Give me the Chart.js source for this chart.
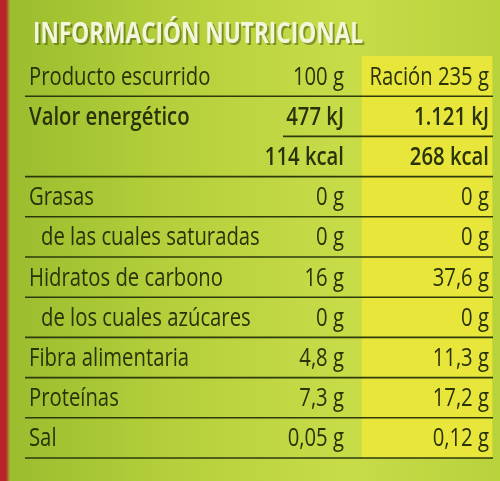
<!DOCTYPE html>
<html>
<head>
<meta charset="utf-8">
<script src="https://cdn.jsdelivr.net/npm/chart.js@4"></script>
<style>
  body { margin: 0; }
  #wrap {
    width: 500px; height: 481px; position: relative;
    background: linear-gradient(90deg, #b8232a 0px, #b8232a 6px, #9bbd2e 10px, #b5d03c 35%, #c8dc48 70%, #b8d23c 100%);
  }
</style>
</head>
<body>
<div id="wrap"><canvas id="label" width="500" height="481"></canvas></div>
<script>
const title = 'INFORMACIÓN NUTRICIONAL';
const rows = ['Producto escurrido', 'Valor energético', '', 'Grasas', '   de las cuales saturadas',
  'Hidratos de carbono', '   de los cuales azúcares', 'Fibra alimentaria', 'Proteínas', 'Sal'];
const per100 = ['100 g', '477 kJ', '114 kcal', '0 g', '0 g', '16 g', '0 g', '4,8 g', '7,3 g', '0,05 g'];
const perRacion = ['Ración 235 g', '1.121 kJ', '268 kcal', '0 g', '0 g', '37,6 g', '0 g', '11,3 g', '17,2 g', '0,12 g'];
const boldRows = [1, 2];

const FONT = '"Open Sans", "Noto Sans", sans-serif';
const ink = '#2a3208';
const SQ = 0.78; // horizontal squeeze, the label font is condensed

function squeezed(ctx, text, px, py, align) {
  ctx.save();
  ctx.translate(px, py);
  ctx.scale(SQ, 1);
  ctx.textAlign = align;
  ctx.fillText(text, 0, 0);
  ctx.restore();
}

const tablePlugin = {
  id: 'tableText',
  beforeDatasetsDraw(chart) {
    const ctx = chart.ctx;
    ctx.save();
    ctx.font = 'bold 29px ' + FONT;
    ctx.fillStyle = 'rgba(60,80,10,0.5)';
    squeezed(ctx, title, 35, 45, 'left');
    ctx.fillStyle = '#f4f6dc';
    squeezed(ctx, title, 33, 43, 'left');
    ctx.restore();
  },
  afterDatasetsDraw(chart) {
    const ctx = chart.ctx, y = chart.scales.y, x = chart.scales.x;
    ctx.save();
    ctx.fillStyle = ink;
    ctx.textBaseline = 'middle';
    rows.forEach((r, i) => {
      const cy = y.getPixelForValue(i) + 1;
      ctx.font = (boldRows.includes(i) ? '600 ' : '500 ') + '26px ' + FONT;
      squeezed(ctx, r.replace(/^ +/, ''), x.getPixelForValue(r.startsWith(' ') ? 41 : 29), cy, 'left');
      squeezed(ctx, per100[i], x.getPixelForValue(344), cy, 'right');
      squeezed(ctx, perRacion[i], x.getPixelForValue(489), cy, 'right');
    });
    // row rules
    ctx.strokeStyle = '#2e3a0c';
    ctx.lineWidth = 1.6;
    for (let i = 0; i < rows.length; i++) {
      const by = y.getPixelForValue(i) + (y.getPixelForValue(1) - y.getPixelForValue(0)) / 2;
      const x0 = i === 1 ? 283 : 25;
      ctx.beginPath();
      ctx.moveTo(x.getPixelForValue(x0), by);
      ctx.lineTo(x.getPixelForValue(493), by);
      ctx.stroke();
    }
    ctx.restore();
  }
};

new Chart(document.getElementById('label'), {
  type: 'bar',
  data: {
    labels: rows.map((r, i) => 'r' + i),
    datasets: [{
      data: rows.map(() => [362, 492]),
      backgroundColor: '#e8e63a',
      barPercentage: 1,
      categoryPercentage: 1
    }]
  },
  options: {
    indexAxis: 'y',
    responsive: false,
    animation: false,
    layout: { padding: { top: 56, bottom: 23 } },
    plugins: { legend: { display: false }, tooltip: { enabled: false } },
    scales: {
      x: { type: 'linear', min: 0, max: 500, display: false },
      y: { display: false }
    }
  },
  plugins: [tablePlugin]
});
</script>
</body>
</html>
